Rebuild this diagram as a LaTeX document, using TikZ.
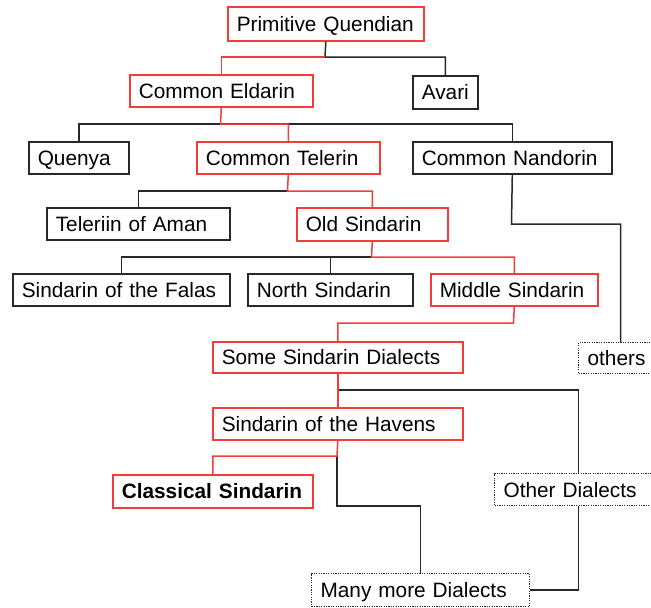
\documentclass[tikz,border=0pt]{standalone}
\usepackage{fontspec}
\setmainfont{Liberation Sans}
\definecolor{redc}{RGB}{245,60,60}
\definecolor{blkc}{RGB}{40,40,40}
\newcommand{\bt}[1]{\mbox{\rule[-5pt]{0pt}{25pt}#1}}
\tikzset{
  box/.style={rectangle, anchor=north west, inner xsep=9pt, inner ysep=0pt,
    align=left, font=\fontsize{20.8}{24}\selectfont, fill=white},
  redbox/.style={box, draw=redc, line width=1.6pt},
  blkbox/.style={box, draw=blkc, line width=1.6pt},
  dotbox/.style={box, draw=blkc, line width=1.2pt, dash pattern=on 1.2pt off 1.2pt},
  blkline/.style={draw=blkc, line width=1.5pt},
  redline/.style={draw=redc, line width=1.5pt}
}
\begin{document}
\begin{tikzpicture}[x=1pt,y=-1pt]
\useasboundingbox (0,0) rectangle (651,608);
\clip (0,0) rectangle (651,608);
% nodes
\node[redbox, minimum height=34pt, text width=178pt] (pq) at (227,6) {\bt{Primitive Quendian}};
\node[redbox, minimum height=32pt, text width=165pt] (ce) at (129,74) {\bt{Common Eldarin}};
\node[blkbox, minimum height=33pt, text width=47pt] (av) at (412,75) {\bt{Avari}};
\node[blkbox, minimum height=32pt, text width=82pt] (qu) at (28,141) {\bt{Quenya}};
\node[redbox, minimum height=32pt, text width=165pt] (ct) at (196,141) {\bt{Common Telerin}};
\node[blkbox, minimum height=32pt, text width=181pt] (cn) at (412,141) {\bt{Common Nandorin}};
\node[blkbox, minimum height=32pt, text width=165pt] (ta) at (46,207) {\bt{Teleriin of Aman}};
\node[redbox, minimum height=33pt, text width=133pt] (os) at (296,207) {\bt{Old Sindarin}};
\node[blkbox, minimum height=32pt, text width=199pt] (sf) at (12,273) {\bt{Sindarin of the Falas}};
\node[blkbox, minimum height=32pt, text width=147pt] (ns) at (247,273) {\bt{North Sindarin}};
\node[redbox, minimum height=32pt, text width=149pt] (ms) at (430,273) {\bt{Middle Sindarin}};
\node[redbox, minimum height=31pt, text width=232pt] (ssd) at (212,341) {\bt{Some Sindarin Dialects}};
\node[dotbox, minimum height=31pt, text width=66pt] (oth) at (578,342) {\bt{others}};
\node[redbox, minimum height=32pt, text width=232pt] (soh) at (212,407) {\bt{Sindarin of the Havens}};
\node[redbox, minimum height=33pt, text width=182pt, font=\fontsize{20.8}{24}\selectfont\bfseries] (cs) at (112,474) {\bt{Classical Sindarin}};
\node[dotbox, minimum height=32pt, text width=150pt] (od) at (494,473) {\bt{Other Dialects}};
\node[dotbox, minimum height=33pt, text width=200pt] (mmd) at (311,573) {\bt{Many more Dialects}};
% junctions
\coordinate (j1) at (325,57);
\coordinate (j2) at (220.5,124);
\coordinate (j3) at (287.5,191);
\coordinate (k1) at (511.5,224);
\coordinate (j4) at (371.5,257);
\coordinate (j5) at (513.5,323);
\coordinate (j6) at (337,390);
\coordinate (j7) at (337,456);
\coordinate (j8) at (337,506);
% black connectors
\draw[blkline] (pq.south) -- (j1) -| (av.north);
\draw[blkline] (qu.north) |- (j2) -| (cn.north);
\draw[blkline] (j3) -| (ta.north);
\draw[blkline] (cn.south) -- (k1) -| (oth.north);
\draw[blkline] (sf.north) |- (j4);
\draw[blkline] (ns.north) -- (ns.north |- j4);
\draw[blkline] (j6) -| (od.north);
\draw[blkline] (j7) -- (j8) -| (mmd.north);
\draw[blkline] (od.south) |- (mmd.east);
% red connectors
\draw[redline] (j1) -| (ce.north);
\draw[redline] (ce.south) -- (j2) -| (ct.north);
\draw[redline] (ct.south) -- (j3) -| (os.north);
\draw[redline] (os.south) -- (j4) -| (ms.north);
\draw[redline] (ms.south) -- (j5) -| (ssd.north);
\draw[redline] (ssd.south) -- (soh.north);
\draw[redline] (soh.south) -- (j7) -| (cs.north);
\end{tikzpicture}
\end{document}
